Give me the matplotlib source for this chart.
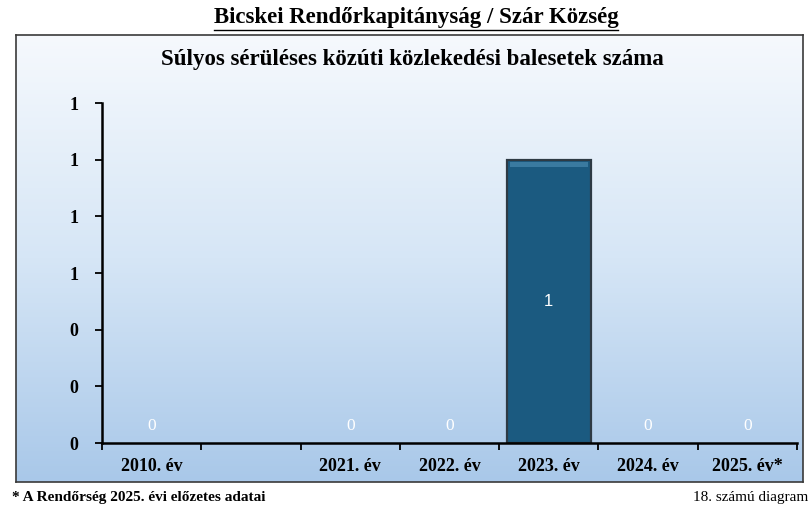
import numpy as np
import matplotlib.pyplot as plt
from matplotlib.colors import LinearSegmentedColormap
from matplotlib.patches import Rectangle

# Data
categories = ["2010. év", "", "2021. év", "2022. év", "2023. év", "2024. év", "2025. év*"]
values = [0, np.nan, 0, 0, 1, 0, 0]
y_ticks = [0, 0.2, 0.4, 0.6, 0.8, 1.0, 1.2]

plt.rcParams["font.family"] = ["Liberation Serif", "DejaVu Serif"]

fig = plt.figure(figsize=(8.1, 5.09), dpi=100)

# Framed panel with vertical gradient
bg = fig.add_axes([16 / 810, 1 - 482 / 509, 787 / 810, 447 / 509])
grad = LinearSegmentedColormap.from_list("bg", ["#f6f9fd", "#d6e6f6", "#a9c8e9"])
bg.imshow(np.linspace(0, 1, 256).reshape(-1, 1), aspect="auto", cmap=grad,
          extent=[0, 1, 0, 1], origin="upper")
bg.set_xticks([])
bg.set_yticks([])
for s in bg.spines.values():
    s.set_color("#3a3a3a")
    s.set_linewidth(1.2)

# Headings
fig.text(416 / 810, 1 - 17 / 509, "Bicskei Rendőrkapitányság / Szár Község",
         ha="center", va="center", fontsize=16.5, fontweight="bold")
fig.add_artist(plt.Line2D([214 / 810, 618 / 810], [1 - 30 / 509, 1 - 30 / 509],
                          color="black", lw=1.0))
fig.text(412 / 810, 1 - 60 / 509, "Súlyos sérüléses közúti közlekedési balesetek száma",
         ha="center", va="center", fontsize=16.5, fontweight="bold")

# Chart
ax = fig.add_axes([102 / 810, 1 - 443 / 509, 695 / 810, 340 / 509])
ax.patch.set_alpha(0)
x = np.arange(len(categories)) + 0.5
heights = np.nan_to_num(values)
bars = ax.bar(x, heights, width=0.85, color="#1b5a80",
              edgecolor="#2e3a44", linewidth=1.6, zorder=2)
for b, h in zip(bars, heights):
    if h == 0:
        b.set_linewidth(0)

# light bevel along bar tops
for b, v in zip(bars, heights):
    if v > 0:
        ax.add_patch(Rectangle((b.get_x() + 0.03, v - 0.025), b.get_width() - 0.06, 0.016,
                               color="#3a7aa0", lw=0, zorder=3))

for xi, v in zip(x, values):
    if np.isnan(v):
        continue
    if v > 0:
        ax.text(xi, v / 2, f"{v:.0f}", ha="center", va="center", color="white",
                fontsize=12, family="Liberation Sans", zorder=4)
    else:
        ax.text(xi, 0.06, f"{v:.0f}", ha="center", va="center", color="white",
                fontsize=12.5, zorder=4)

ax.set_xlim(0, len(categories))
ax.set_ylim(0, 1.2)
ax.set_yticks(y_ticks)
ax.set_yticklabels([f"{t:.0f}" for t in y_ticks])
ax.set_xticks(np.arange(len(categories) + 1))
ax.set_xticklabels([])
ax.set_xticks(x, minor=True)
ax.set_xticklabels(categories, minor=True)
ax.tick_params(axis="x", which="minor", length=0, pad=11, labelsize=13)
ax.tick_params(axis="x", which="major", length=5, width=1.3, direction="out")
ax.tick_params(axis="y", length=5, width=1.3, pad=12, labelsize=13)
for lbl in ax.get_xticklabels(minor=True) + ax.get_yticklabels():
    lbl.set_fontweight("bold")
for side in ["top", "right"]:
    ax.spines[side].set_visible(False)
ax.spines["left"].set_linewidth(1.8)
ax.spines["bottom"].set_linewidth(1.8)

# Footer
fig.text(12 / 810, 1 - 497 / 509, "* A Rendőrség 2025. évi előzetes adatai",
         ha="left", va="center", fontsize=11, fontweight="bold")
fig.text(808 / 810, 1 - 497 / 509, "18. számú diagram",
         ha="right", va="center", fontsize=11)

fig.savefig("out.png", dpi=100)
